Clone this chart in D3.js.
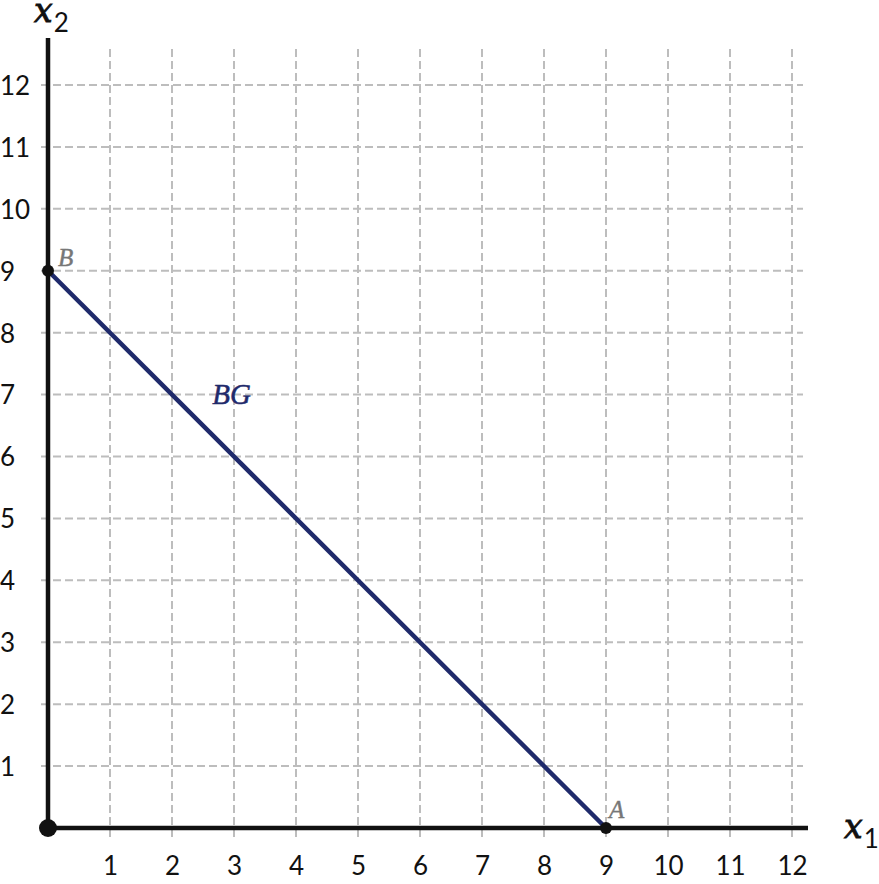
<!DOCTYPE html>
<html>
<head>
<meta charset="utf-8">
<script src="https://cdn.jsdelivr.net/npm/d3@7"></script>
<style>
  body { margin: 0; background: #fff; }
  .tick text { font-family: Lato, "Open Sans", sans-serif; font-size: 26px; fill: #111; }
</style>
</head>
<body>
<div id="chart"></div>
<script>
(function() {
  var width = 879,
      height = 884;

  // data
  var xTicks = [1, 2, 3, 4, 5, 6, 7, 8, 9, 10, 11, 12];
  var yTicks = [1, 2, 3, 4, 5, 6, 7, 8, 9, 10, 11, 12];
  var budgetLine = [{x: 0, y: 9}, {x: 9, y: 0}];
  var points = [
    {name: "B", x: 0, y: 9},
    {name: "A", x: 9, y: 0}
  ];
  var lineLabel = {name: "BG", x: 2.65, y: 7};

  var svg = d3.select("#chart")
        .append("svg")
        .attr("width", width)
        .attr("height", height);

  var x = d3.scaleLinear().domain([0, 12]).range([48, 792]);
  var y = d3.scaleLinear().domain([0, 12]).range([828, 85]);

  var grid = svg.append("g")
    .attr("stroke", "#bdbdbd")
    .attr("stroke-width", 2)
    .attr("stroke-dasharray", "8,4");

  // vertical grid
  grid.selectAll(".vgrid")
    .data(xTicks)
    .enter().append("line")
    .attr("x1", function(d){ return x(d); })
    .attr("x2", function(d){ return x(d); })
    .attr("y1", y(12) - 36)
    .attr("y2", y(0) + 11);

  // horizontal grid
  grid.selectAll(".hgrid")
    .data(yTicks)
    .enter().append("line")
    .attr("y1", function(d){ return y(d); })
    .attr("y2", function(d){ return y(d); })
    .attr("x1", x(0) - 7)
    .attr("x2", x(12) + 11);

  // tick labels via axes (no domain, no tick marks)
  var xAxis = svg.append("g")
    .attr("transform", "translate(0,875)")
    .call(d3.axisBottom(x).tickValues(xTicks).tickSize(0).tickPadding(0));
  xAxis.select(".domain").remove();
  xAxis.selectAll("text").attr("dy", 0);

  var yAxis = svg.append("g")
    .call(d3.axisLeft(y).tickValues(yTicks).tickSize(0).tickPadding(0));
  yAxis.select(".domain").remove();
  yAxis.selectAll("text")
    .attr("text-anchor", "start")
    .attr("x", 0)
    .attr("dy", "0.36em");

  // axes lines
  svg.append("line")
    .attr("x1", x(0)).attr("x2", x(0))
    .attr("y1", 38).attr("y2", y(0))
    .attr("stroke", "#111").attr("stroke-width", 4.5);
  svg.append("line")
    .attr("x1", x(0)).attr("x2", x(12) + 16)
    .attr("y1", y(0)).attr("y2", y(0))
    .attr("stroke", "#111").attr("stroke-width", 4.5);

  // budget line
  var line = d3.line()
    .x(function(d){ return x(d.x); })
    .y(function(d){ return y(d.y); });

  svg.append("path")
    .datum(budgetLine)
    .attr("d", line)
    .attr("fill", "none")
    .attr("stroke", "#1f2a6b")
    .attr("stroke-width", 4.5);

  // origin dot
  svg.append("circle")
    .attr("cx", x(0)).attr("cy", y(0))
    .attr("r", 9)
    .attr("fill", "#111");

  svg.selectAll(".pt")
    .data(points)
    .enter().append("circle")
    .attr("cx", function(d){ return x(d.x); })
    .attr("cy", function(d){ return y(d.y); })
    .attr("r", 6)
    .attr("fill", "#111");

  svg.selectAll(".ptlabel")
    .data(points)
    .enter().append("text")
    .attr("x", function(d){ return x(d.x) + (d.name === "A" ? 3 : 10); })
    .attr("y", function(d){ return y(d.y) - (d.name === "A" ? 10 : 5); })
    .attr("font-family", "'Liberation Serif', serif")
    .attr("font-style", "italic")
    .attr("font-size", 25)
    .attr("fill", "#777")
    .attr("stroke", "#777")
    .attr("stroke-width", 0.4)
    .text(function(d){ return d.name; });

  svg.append("text")
    .attr("x", x(lineLabel.x))
    .attr("y", y(lineLabel.y) + 9)
    .attr("font-family", "'Liberation Serif', serif")
    .attr("font-style", "italic")
    .attr("font-size", 29)
    .attr("fill", "#1f2a6b")
    .attr("stroke", "#1f2a6b")
    .attr("stroke-width", 0.5)
    .text(lineLabel.name);

  // axis titles
  function axisTitle(px, py, sub) {
    var t = svg.append("text")
      .attr("x", px).attr("y", py)
      .attr("fill", "#111");
    t.append("tspan")
      .attr("font-family", "'DejaVu Serif', serif")
      .attr("font-style", "italic")
      .attr("font-size", 33)
      .attr("stroke", "#111")
      .attr("stroke-width", 0.9)
      .text("x");
    t.append("tspan")
      .attr("font-family", "Lato, sans-serif")
      .attr("font-size", 26)
      .attr("dx", 1)
      .attr("dy", 10)
      .text(sub);
  }
  axisTitle(34, 22, "2");
  axisTitle(844, 838, "1");
})();
</script>
</body>
</html>
